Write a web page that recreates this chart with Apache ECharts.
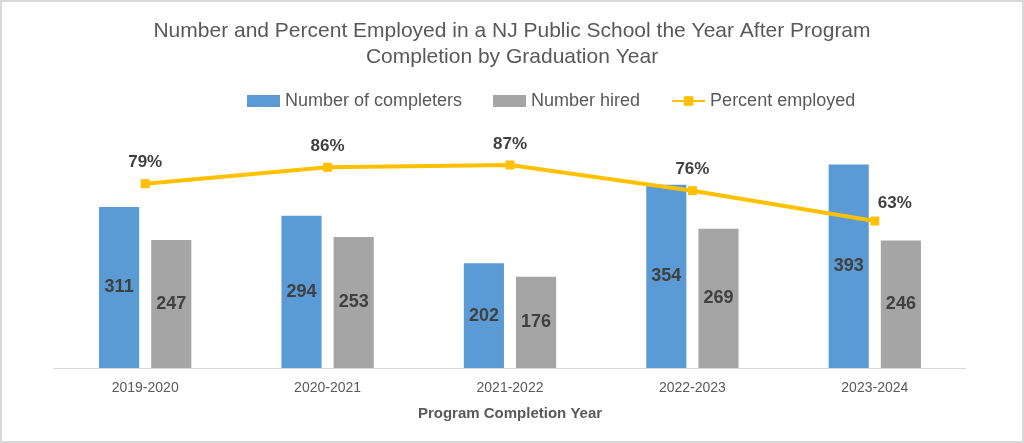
<!DOCTYPE html>
<html>
<head>
<meta charset="utf-8">
<script src="https://cdn.jsdelivr.net/npm/echarts@6/dist/echarts.min.js"></script>
<style>
html,body{margin:0;padding:0;background:#fff;}
#wrap{width:1024px;height:443px;box-sizing:border-box;border:2px solid #d9d9d9;}
#chart{width:1020px;height:439px;}
</style>
</head>
<body>
<div id="wrap"><div id="chart"></div></div>
<script>
const categories = ['2019-2020', '2020-2021', '2021-2022', '2022-2023', '2023-2024'];
const completers = [311, 294, 202, 354, 393];
const hired = [247, 253, 176, 269, 246];
const percentEmployed = [79, 86, 87, 76, 63];

const FONT = 'Liberation Sans, Arial, sans-serif';
const chart = echarts.init(document.getElementById('chart'));
chart.setOption({
  animation: false,
  textStyle: { fontFamily: FONT },
  title: {
    text: 'Number and Percent Employed in a NJ Public School the Year After Program\nCompletion by Graduation Year',
    left: 'center',
    top: 11,
    textStyle: { color: '#595959', fontSize: 21, fontWeight: 'normal', lineHeight: 26, fontFamily: FONT }
  },
  legend: {
    top: 85,
    left: 240,
    itemGap: 31,
    itemWidth: 33,
    itemHeight: 12,
    textStyle: { color: '#595959', fontSize: 18, fontFamily: FONT },
    data: [
      { name: 'Number of completers', icon: 'rect' },
      { name: 'Number hired', icon: 'rect' },
      { name: 'Percent employed' }
    ]
  },
  grid: { left: 52, right: 56, top: 107, bottom: 73, containLabel: false },
  xAxis: {
    type: 'category',
    data: categories,
    name: 'Program Completion Year',
    nameLocation: 'middle',
    nameGap: 38,
    nameTextStyle: { color: '#595959', fontSize: 15, fontWeight: 'bold', fontFamily: FONT },
    axisLine: { lineStyle: { color: '#d9d9d9', width: 1 } },
    axisTick: { show: false },
    axisLabel: { color: '#595959', fontSize: 14, margin: 13, fontFamily: FONT }
  },
  yAxis: [
    { type: 'value', min: 0, max: 500, show: false, splitLine: { show: false } },
    { type: 'value', min: 0, max: 111, show: false, splitLine: { show: false } }
  ],
  series: [
    {
      name: 'Number of completers',
      type: 'bar',
      data: completers,
      barWidth: '22%',
      barGap: '30%',
      itemStyle: { color: '#5b9bd5' },
      label: { show: true, position: 'inside', color: '#404040', fontSize: 18, fontWeight: 'bold', fontFamily: FONT }
    },
    {
      name: 'Number hired',
      type: 'bar',
      data: hired,
      barWidth: '22%',
      barGap: '30%',
      itemStyle: { color: '#a5a5a5' },
      label: { show: true, position: 'inside', color: '#404040', fontSize: 18, fontWeight: 'bold', fontFamily: FONT }
    },
    {
      name: 'Percent employed',
      type: 'line',
      yAxisIndex: 1,
      data: percentEmployed.map((v, i) => i === 4
        ? { value: v, label: { offset: [20, 3] } }
        : v),
      symbol: 'rect',
      symbolSize: 9,
      lineStyle: { color: '#ffc000', width: 4 },
      itemStyle: { color: '#ffc000' },
      label: {
        show: true, position: 'top', distance: 8,
        formatter: p => p.value + '%',
        color: '#404040', fontSize: 17, fontWeight: 'bold', fontFamily: FONT
      }
    }
  ]
});
</script>
</body>
</html>
